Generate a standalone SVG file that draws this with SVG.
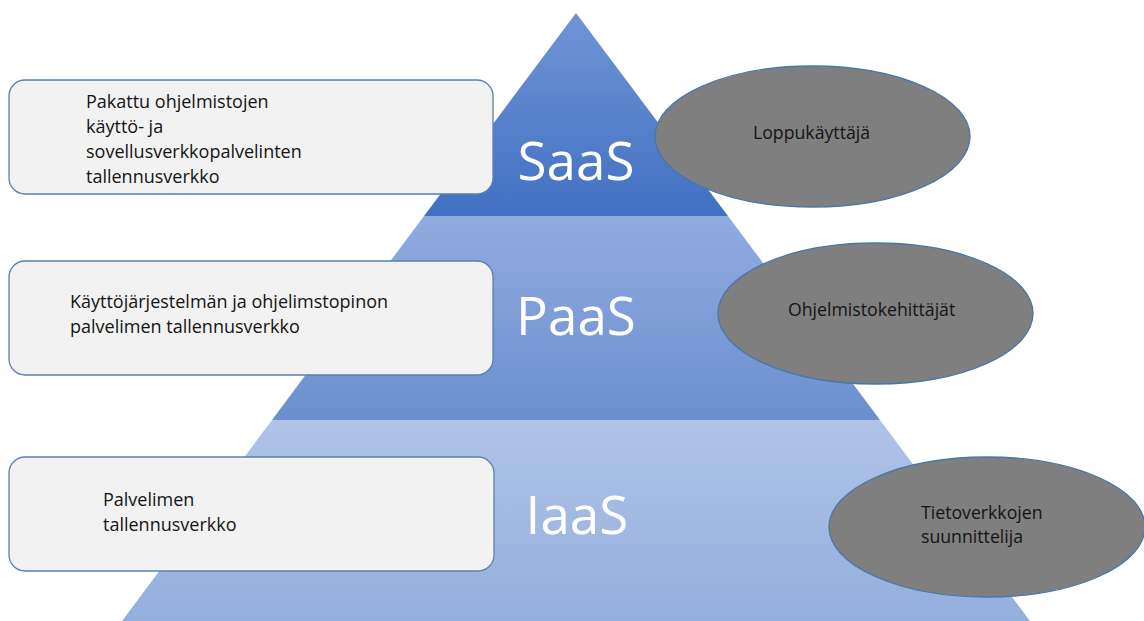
<svg xmlns="http://www.w3.org/2000/svg" width="1144" height="621" viewBox="0 0 1144 621">
<defs>
<linearGradient id="gSaaS" x1="0" y1="13" x2="0" y2="216" gradientUnits="userSpaceOnUse">
<stop offset="0" stop-color="#7194d6"/><stop offset="1" stop-color="#4170c2"/>
</linearGradient>
<linearGradient id="gPaaS" x1="0" y1="216" x2="0" y2="420" gradientUnits="userSpaceOnUse">
<stop offset="0" stop-color="#91abdf"/><stop offset="1" stop-color="#6b8fcf"/>
</linearGradient>
<linearGradient id="gIaaS" x1="0" y1="420" x2="0" y2="621" gradientUnits="userSpaceOnUse">
<stop offset="0" stop-color="#b0c3e8"/><stop offset="1" stop-color="#93afdd"/>
</linearGradient>
</defs>
<style>
.box{fill:#f2f2f2;stroke:#5a80ad;stroke-width:1.3}
.ell{fill:#7f7f7f;stroke:#4a76a8;stroke-width:1.3}
.bt{font-family:"Open Sans","Liberation Sans",sans-serif;font-size:18px;fill:#141414}
.et{font-family:"Open Sans","Liberation Sans",sans-serif;font-size:17.7px;fill:#141414}
.tier{font-family:"Open Sans","Liberation Sans",sans-serif;font-size:53px;fill:#ffffff;text-anchor:middle}
</style>
<rect width="1144" height="621" fill="#ffffff"/>
<g id="tier-iaas">
<polygon points="272,420 880,420 1030,621 122,621" fill="url(#gIaaS)"/>
<text class="tier" x="577" y="534">IaaS</text>
</g>
<g id="tier-paas">
<polygon points="424,216 728,216 880,420 272,420" fill="url(#gPaaS)"/>
<text class="tier" x="576" y="335">PaaS</text>
</g>
<g id="tier-saas">
<polygon points="576,13 728,216 424,216" fill="url(#gSaaS)"/>
<text class="tier" x="576" y="180">SaaS</text>
</g>
<g id="connectors"></g>
<g id="box-saas">
<rect class="box" x="9" y="80" width="484" height="114" rx="16"/>
<text class="bt" x="86" y="108">Pakattu ohjelmistojen</text>
<text class="bt" x="86" y="133">käyttö- ja</text>
<text class="bt" x="86" y="158">sovellusverkkopalvelinten</text>
<text class="bt" x="86" y="183">tallennusverkko</text>
</g>
<g id="box-paas">
<rect class="box" x="9" y="261" width="484" height="114" rx="16"/>
<text class="bt" x="70" y="308">Käyttöjärjestelmän ja ohjelimstopinon</text>
<text class="bt" x="70" y="333">palvelimen tallennusverkko</text>
</g>
<g id="box-iaas">
<rect class="box" x="9" y="457" width="485" height="114" rx="16"/>
<text class="bt" x="103" y="506">Palvelimen</text>
<text class="bt" x="103" y="531">tallennusverkko</text>
</g>
<g id="role-saas">
<ellipse class="ell" cx="812.5" cy="136.5" rx="157.5" ry="70.5"/>
<text class="et" x="753" y="139">Loppukäyttäjä</text>
</g>
<g id="role-paas">
<ellipse class="ell" cx="875.5" cy="313.5" rx="157.5" ry="70.5"/>
<text class="et" x="788" y="316">Ohjelmistokehittäjät</text>
</g>
<g id="role-iaas">
<ellipse class="ell" cx="987" cy="527" rx="158" ry="70"/>
<text class="et" x="921" y="519">Tietoverkkojen</text>
<text class="et" x="921" y="543">suunnittelija</text>
</g>
</svg>
